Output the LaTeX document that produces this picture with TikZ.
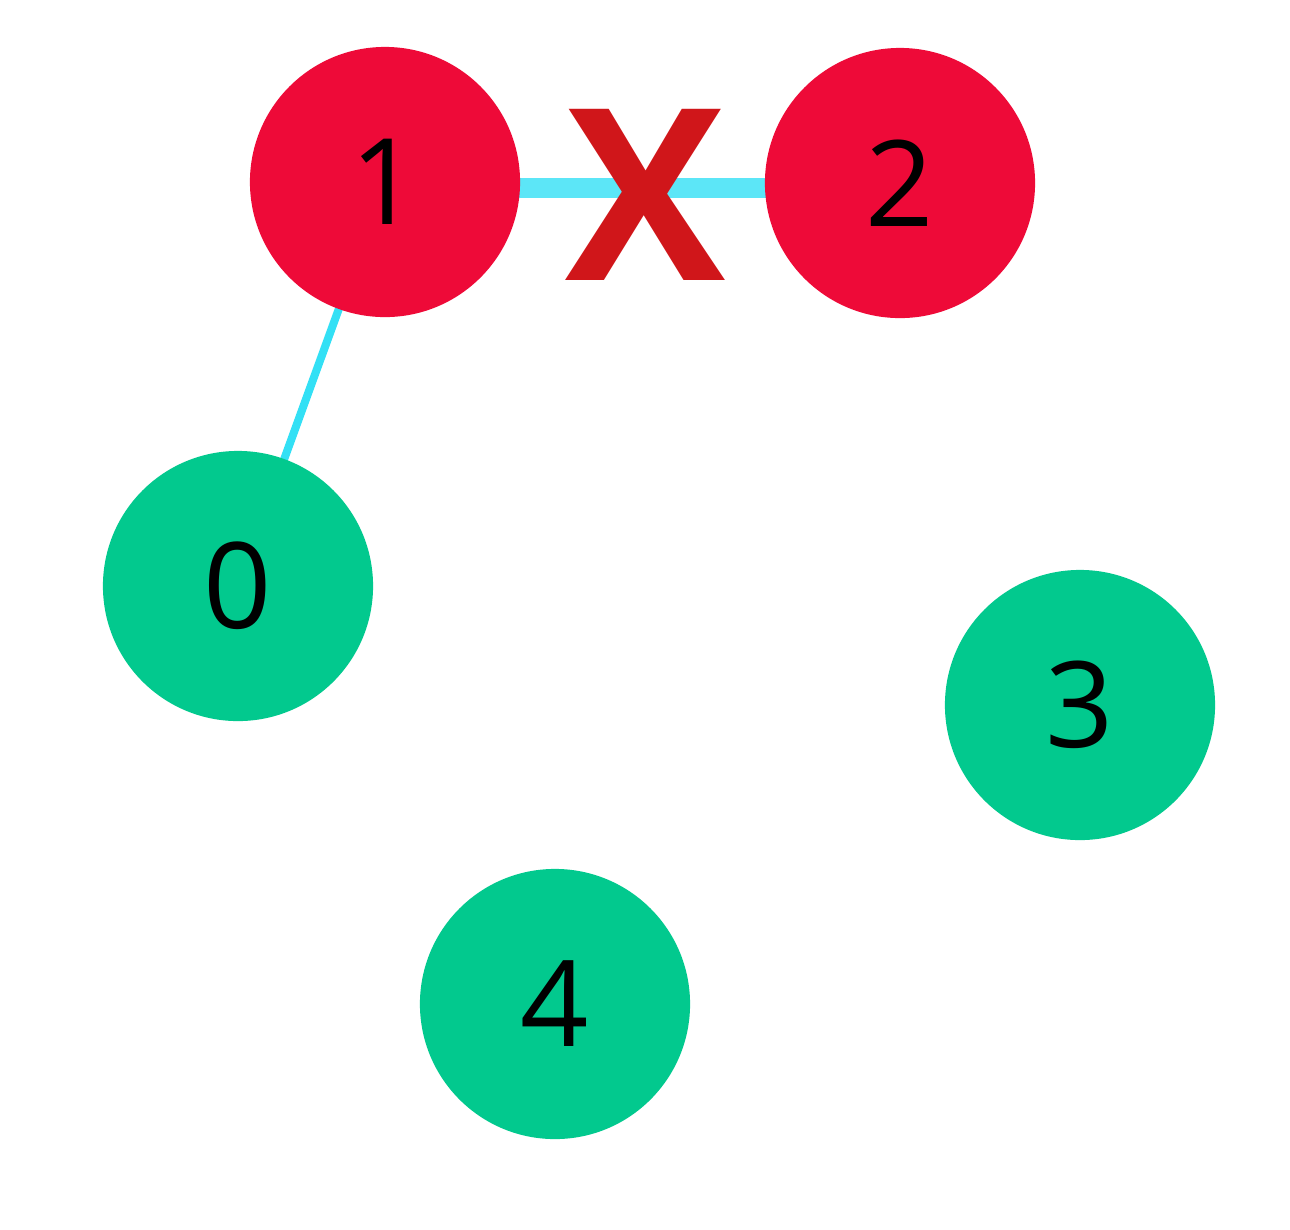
\documentclass[tikz,border=0pt]{standalone}
\usepackage{fontspec}
\setmainfont{Open Sans}
\definecolor{nodered}{HTML}{EE0A38}
\definecolor{nodegreen}{HTML}{02C98E}
\definecolor{edgecyan}{HTML}{33E0F5}
\definecolor{crossred}{HTML}{D0161A}
\begin{document}
\begin{tikzpicture}[x=0.01cm, y=-0.01cm,
    vertex/.style={circle, minimum size=2.7cm, inner sep=0pt, font=\fontsize{34}{40}\selectfont},
    hot/.style={vertex, fill=nodered},
    cool/.style={vertex, fill=nodegreen}]
              \useasboundingbox (0,0) rectangle (1290,1229);

              \draw [line width=0.2cm, color=edgecyan!80!white] (385,188) -- (900,188);
              \draw [line width=0.08cm, color=edgecyan] (385,182) -- (238,586);

              \node[hot] (n1) at (385,182) {1};
              \node[hot] (n2) at (900,183) {2};
              \node[cool] (n0) at (238,586) {0};
              \node[cool] (n3) at (1080,705) {3};
              \node[cool] (n4) at (555,1004) {4};

              \node[text=crossred, font=\fontsize{62}{70}\selectfont\bfseries, scale=1.1] (cut) at (645,195) {X};

          \end{tikzpicture}
\end{document}
